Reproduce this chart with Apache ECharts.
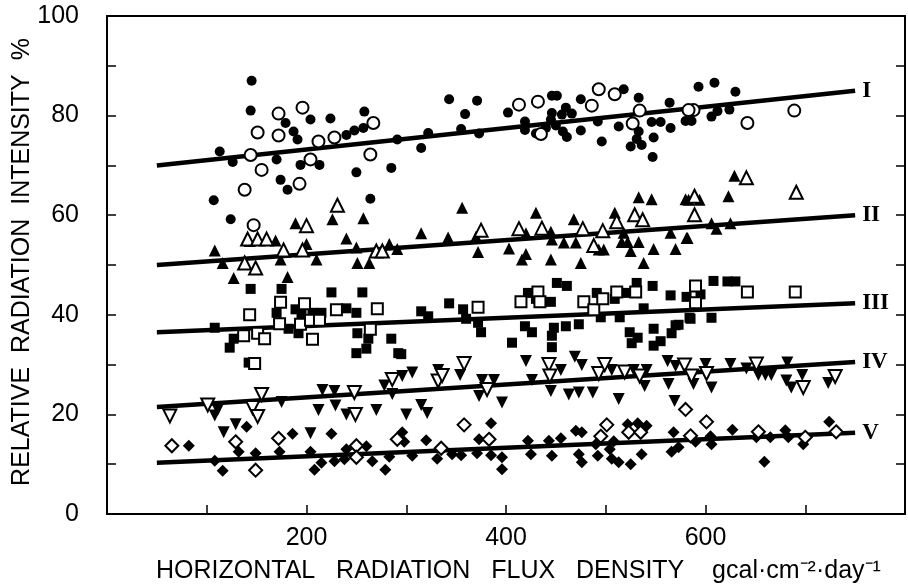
<!DOCTYPE html>
<html>
<head>
<meta charset="utf-8">
<script src="https://cdn.jsdelivr.net/npm/echarts@6/dist/echarts.min.js"></script>
<style>
  html, body { margin: 0; padding: 0; background: #fff; }
  #chart { width: 908px; height: 586px; }
</style>
</head>
<body>
<div id="chart"></div>
<script>
// tick labels shown on the axes
var xTickLabels = [200, 400, 600];
var yTickLabels = [0, 20, 40, 60, 80, 100];

// regression lines (x from / to, y from / to)
var lineX = [50, 750];
var lineI = [70, 85];
var lineII = [50, 60];
var lineIII = [36.5, 42.3];
var lineIV = [21.5, 30.5];
var lineV = [10.3, 16.3];
var lineNames = ['I', 'II', 'III', 'IV', 'V'];

// I : circles
var circleFilled = [[145,87.0],[144,81.0],[179,78.5],[204,79.2],[187,76.8],[191,75.2],[224,79.4],[258,80.8],[248,77.0],[240,76.1],[257,77.5],[113,72.8],[126,70.7],[170,71.2],[194,70.1],[213,70.1],[174,67.1],[181,65.1],[250,68.6],[285,69.5],[291,75.2],[107,63.0],[124,59.2],[264,63.3],
  [343,83.3],[371,83.0],[359,80.3],[322,76.5],[355,77.3],[373,76.4],[315,73.5],[402,80.6],[419,78.8],[419,77.1],[446,84.0],[451,84.0],[475,83.3],[460,81.6],[446,80.5],[445,79.2],[456,80.2],[466,80.4],[440,77.5],[450,78.0],[457,76.8],[461,75.7],[475,77.0],[430,76.4],[492,78.8],[518,85.3],[533,83.6],[513,77.8],[496,74.8],[525,73.8],[536,74.1],[531,75.3],[533,76.8],[547,71.7],[548,75.6],[546,78.7],[555,78.7],[565,77.5],[564,82.6],[580,78.9],[586,78.9],[593,85.8],
  [609,86.6],[630,84.8],[606,79.8],[624,81.2],[612,80.9]];
var circleOpen = [[172,80.4],[196,81.6],[151,76.6],[172,76.0],[212,74.8],[228,75.6],[267,78.5],[144,72.1],[204,71.2],[155,69.1],[264,72.2],[193,66.3],[138,65.1],[147,58.0],
  [493,85.3],[509,84.3],[432,82.8],[413,82.2],[486,82.0],[534,81.0],[527,78.4],[435,76.3],[588,81.1],[583,81.1],[642,78.5],[689,81.0]];

// II : triangles
var triFilled = [[189,58.4],[226,59.2],[257,59.4],[143,54.8],[169,54.9],[240,55.3],[108,52.9],[200,54.2],[250,53.5],[283,54.2],[291,53.2],
  [127,47.4],[181,47.6],[116,50.4],[174,51.1],[210,51.1],[251,50.4],[263,50.4],
  [356,61.5],[430,60.5],[468,59.2],[533,63.6],[546,63.2],[580,63.2],[509,60.5],[315,56.4],[342,55.5],[370,55.7],[372,52.6],[403,53.3],[420,56.4],[445,56.7],[446,55.1],[420,52.2],[458,54.5],[470,54.5],[518,56.5],[516,54.6],[522,54.6],[533,54.6],[548,53.2],[565,56.5],[581,55.4],[570,53.2],[493,53.1],[498,53.1],[525,52.8],
  [416,51.1],[445,51.1],[475,50.4],[538,50.4],
  [629,67.9],[583,63.1],[594,63.1],[623,63.8],[582,55.4],[606,58.4],[611,57.3],[625,58.4]];
var triOpen = [[231,62.0],[200,57.9],[141,55.2],[151,55.2],[160,55.2],[177,53.0],[196,53.0],[270,52.8],[276,52.8],[138,50.4],[149,49.4],
  [375,57.0],[413,57.3],[436,57.4],[477,57.3],[497,56.9],[511,58.7],[529,60.1],[537,59.1],[589,63.8],[589,60.1],[488,53.9],
  [641,67.5],[691,64.6]];

// III : squares
var squareFilled = [[144,45.2],[175,45.2],[225,44.5],[256,44.5],[170,40.4],[189,41.1],[195,40.1],[206,40.4],[215,40.4],[240,41.3],[250,40.4],[108,37.4],[182,37.2],[192,36.3],[127,35.2],[123,33.4],[251,36.3],[262,35.2],[260,33.2],[250,32.3],[285,35.2],[292,32.3],[142,30.4],
  [451,46.4],[461,45.8],[531,46.4],[547,45.8],[565,43.9],[581,43.6],[491,44.4],[520,44.4],[422,44.4],[430,43.2],[445,42.6],[509,43.2],[315,40.7],[322,39.7],[343,42.3],[357,41.1],[360,39.2],[372,38.4],[375,36.5],[419,37.7],[426,36.5],[406,34.4],[448,37.4],[460,37.7],[473,38.1],[446,35.8],[446,33.5],[495,39.5],[514,39.5],[524,36.5],[532,35.4],[526,34.3],[548,37.2],[555,34.7],[548,33.8],[570,37.9],[566,36.3],[584,39.4],[538,41.3],[295,32.1],
  [608,46.8],[622,46.7],[630,46.7],[595,44.1],[585,39.2],[606,39.4],[573,38.0]];
var squareOpen = [[174,42.5],[198,42.2],[230,41.0],[271,41.2],[143,40.0],[173,38.2],[194,38.1],[204,38.9],[213,38.9],[137,35.8],[151,36.3],[158,35.2],[206,35.1],[264,37.1],[148,30.2],
  [372,41.5],[415,42.6],[432,44.6],[434,42.6],[478,42.6],[488,41.0],[497,43.2],[511,44.6],[530,44.6],[590,45.8],[590,42.4],
  [642,44.6],[690,44.6]];

// IV : inverted triangles
var invFilled = [[111,20.9],[108,19.8],[175,22.5],[216,24.9],[228,24.7],[212,20.9],[229,21.8],[240,20.0],[270,20.9],[129,18.0],[117,16.4],[204,16.2],[278,25.8],[286,24.1],
  [296,27.7],[306,28.4],[332,28.9],[354,27.9],[376,26.9],[388,26.9],[373,23.7],[396,22.4],[300,20.0],[315,21.9],[321,20.3],[420,30.7],[426,26.9],[455,28.9],[469,31.6],[476,29.9],[445,24.7],[463,24.0],[473,24.4],[487,24.4],[513,23.1],[506,28.9],[528,28.9],[541,28.9],[539,25.7],[562,30.7],[570,29.7],[563,26.1],[569,22.7],[588,26.1],
  [600,30.1],[625,30.1],[682,30.4],[606,25.4],[653,27.9],[660,27.9],[666,27.9],[641,29.2],[681,26.8],[686,25.4],[697,27.9],[723,26.3]];
var invOpen = [[63,19.7],[101,21.9],[155,24.0],[146,21.4],[151,19.6],[248,24.4],[249,20.0],[286,27.0],
  [332,26.7],[336,27.8],[358,30.2],[381,25.0],[443,30.0],[444,27.7],[493,28.2],[499,30.0],[519,28.5],[534,27.7],[579,29.9],[586,27.7],
  [601,28.2],[651,30.1],[698,25.4],[730,27.6]];

// V : diamonds
var diaFilled = [[82,13.7],[140,17.5],[186,16.1],[225,16.1],[132,12.5],[149,12.2],[173,12.5],[204,12.5],[108,10.7],[116,8.7],[208,8.9],[215,10.3],[228,10.6],[238,11.0],[240,13.0],[260,13.6],[266,10.6],[279,8.9],[283,11.5],
  [385,18.2],[296,16.4],[298,14.5],[306,11.7],[320,14.8],[331,11.1],[346,12.0],[355,11.8],[371,12.2],[373,15.0],[385,11.8],[396,11.4],[396,9.0],[422,14.7],[425,12.0],[443,14.7],[446,11.7],[455,15.2],[470,16.7],[476,16.4],[473,12.0],[476,10.4],[490,14.0],[492,11.7],[504,13.0],[506,11.1],[513,10.4],[525,10.0],[522,18.0],[532,18.2],[541,17.7],[536,12.0],[568,16.4],[566,12.5],[508,14.6],
  [573,13.4],[590,14.5],[605,15.6],[606,14.0],[627,16.9],[651,15.4],[665,15.4],[680,16.8],[683,15.4],[698,14.0],[724,18.5],[659,10.5]];
var diaOpen = [[65,13.7],[129,14.5],[172,15.2],[149,8.8],[250,13.7],[250,11.4],[291,15.0],
  [358,17.9],[383,15.0],[335,13.2],[501,17.9],[523,16.4],[535,16.4],[495,15.6],[580,21.0],[585,15.7],
  [601,18.5],[653,16.5],[700,15.4],[731,16.5]];

var font = 'Liberation Sans, Arial, sans-serif';

function lineSeries(name, ys) {
    return {
        name: name,
        type: 'line',
        z: 1,
        symbol: 'none',
        data: [[lineX[0], ys[0]], [lineX[1], ys[1]]],
        lineStyle: { color: '#000', width: 4.5 },
        endLabel: {
            show: true,
            formatter: name,
            distance: 7,
            color: '#000',
            fontFamily: 'Liberation Serif, DejaVu Serif, serif',
            fontWeight: 'bold',
            fontSize: 23
        }
    };
}

function pointSeries(data, symbol, size, open, rotate) {
    return {
        type: 'scatter',
        z: 3,
        data: data,
        symbol: symbol,
        symbolSize: size,
        symbolRotate: rotate || 0,
        itemStyle: open
            ? { color: '#fff', borderColor: '#000', borderWidth: 2, opacity: 1 }
            : { color: '#000', opacity: 1 }
    };
}

var chart = echarts.init(document.getElementById('chart'), null, { renderer: 'canvas' });

var axisLine = { show: true, onZero: false, lineStyle: { color: '#000', width: 2 } };
var inTick = { show: true, inside: true, length: 9, lineStyle: { color: '#000', width: 1.5 } };

var option = {
    animation: false,
    backgroundColor: '#fff',
    grid: { left: 107, right: 2, top: 16, bottom: 72 },
    xAxis: [{
        type: 'value',
        min: 0,
        max: 800,
        interval: 100,
        axisLine: axisLine,
        axisTick: inTick,
        splitLine: { show: false },
        axisLabel: {
            margin: 12,
            color: '#000',
            fontFamily: font,
            fontSize: 25,
            formatter: function (v) { return xTickLabels.indexOf(v) >= 0 ? String(v) : ''; }
        }
    }, {
        type: 'value',
        position: 'top',
        min: 0,
        max: 800,
        axisLine: axisLine,
        axisTick: { show: false },
        axisLabel: { show: false },
        splitLine: { show: false }
    }],
    yAxis: [{
        type: 'value',
        min: 0,
        max: 100,
        interval: 10,
        axisLine: axisLine,
        axisTick: inTick,
        splitLine: { show: false },
        axisLabel: {
            margin: 28,
            color: '#000',
            fontFamily: font,
            fontSize: 25,
            formatter: function (v) { return yTickLabels.indexOf(v) >= 0 ? String(v) : ''; }
        }
    }, {
        type: 'value',
        position: 'right',
        min: 0,
        max: 100,
        interval: 10,
        axisLine: axisLine,
        axisTick: inTick,
        axisLabel: { show: false },
        splitLine: { show: false }
    }],
    graphic: [{
        type: 'text',
        x: 22,
        y: 262,
        rotation: Math.PI / 2,
        style: {
            text: 'RELATIVE  RADIATION  INTENSITY  %',
            fill: '#000',
            font: '25px Liberation Sans, Arial, sans-serif',
            textAlign: 'center',
            textVerticalAlign: 'middle'
        }
    }, {
        type: 'text',
        x: 156,
        y: 571,
        style: {
            text: 'HORIZONTAL   RADIATION   FLUX   DENSITY    gcal·cm⁻²·day⁻¹',
            fill: '#000',
            font: '25px Liberation Sans, Arial, sans-serif',
            textAlign: 'left',
            textVerticalAlign: 'middle'
        }
    }],
    series: [
        lineSeries(lineNames[0], lineI),
        lineSeries(lineNames[1], lineII),
        lineSeries(lineNames[2], lineIII),
        lineSeries(lineNames[3], lineIV),
        lineSeries(lineNames[4], lineV),
        pointSeries(circleFilled, 'circle', 10, false),
        pointSeries(circleOpen, 'circle', 12, true),
        pointSeries(triFilled, 'triangle', 12, false),
        pointSeries(triOpen, 'triangle', 13, true),
        pointSeries(squareFilled, 'rect', 10, false),
        pointSeries(squareOpen, 'rect', 11, true),
        pointSeries(invFilled, 'triangle', 12, false, 180),
        pointSeries(invOpen, 'triangle', 13, true, 180),
        pointSeries(diaFilled, 'diamond', 12, false),
        pointSeries(diaOpen, 'diamond', 13, true)
    ]
};

chart.setOption(option);
</script>
</body>
</html>
